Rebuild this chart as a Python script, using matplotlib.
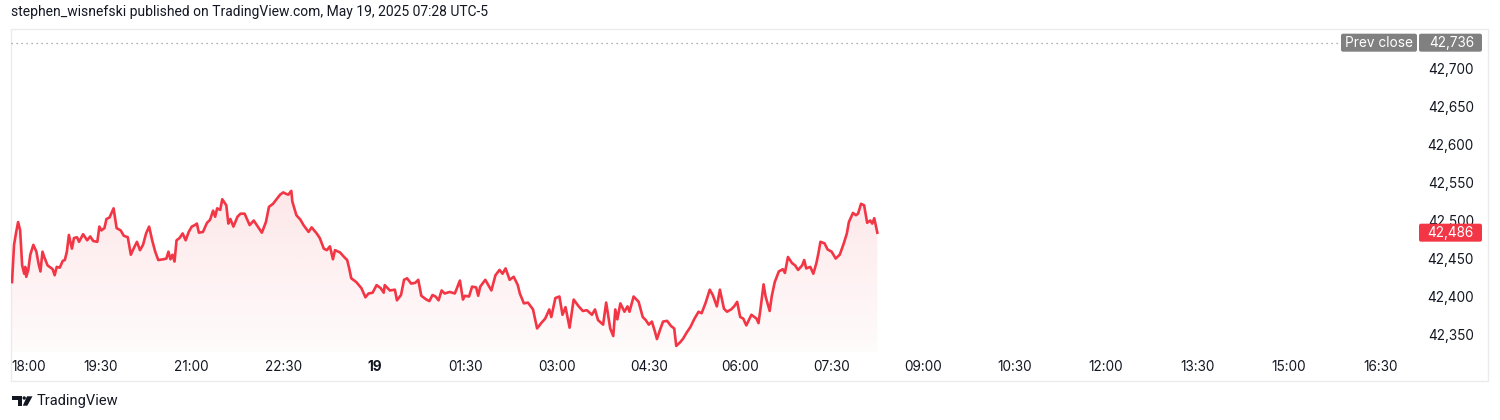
import matplotlib
matplotlib.use('agg')
import matplotlib.pyplot as plt
import matplotlib.transforms as mtransforms
from matplotlib.patches import FancyBboxPatch, Rectangle, Circle, Polygon
import numpy as np

FONT = ['Roboto', 'DejaVu Sans']
AXIS_FONT = ['Inter', 'DejaVu Sans']
RED = '#f23645'
TEXT = '#131722'
GRAY_TAG = '#808080'

plt.rcParams['font.family'] = FONT

# minutes after the 18:00 session open, last price
minutes = [3, 5, 7, 9, 11, 13, 15, 16, 17, 19,
           21, 24, 27, 29, 31, 33, 35, 38, 40, 43,
           45, 47, 50, 53, 55, 57, 59, 62, 64, 67,
           69, 73, 77, 80, 83, 87, 89, 91, 94, 96,
           99, 103, 106, 110, 113, 117, 120, 122, 126, 129,
           132, 135, 138, 141, 144, 147, 152, 155, 157, 159,
           161, 163, 165, 168, 171, 174, 177, 180, 183, 185,
           187, 191, 195, 198, 201, 203, 205, 208, 210, 214,
           216, 218, 221, 225, 228, 232, 237, 241, 245, 249,
           253, 256, 260, 264, 267, 270, 273, 275, 278, 279,
           283, 287, 290, 295, 298, 303, 306, 310, 313, 316,
           319, 321, 326, 330, 333, 335, 337, 342, 347, 351,
           354, 358, 362, 366, 369, 370, 375, 380, 382, 386,
           389, 392, 396, 400, 403, 406, 411, 414, 417, 420,
           423, 426, 429, 434, 439, 444, 447, 449, 453, 456,
           460, 462, 464, 469, 472, 475, 479, 483, 486, 489,
           493, 497, 501, 503, 507, 511, 516, 520, 524, 528,
           532, 534, 538, 542, 545, 548, 552, 556, 561, 565,
           569, 574, 577, 580, 585, 588, 592, 595, 597, 599,
           602, 606, 609, 611, 615, 620, 624, 627, 630, 633,
           636, 638, 641, 644, 648, 652, 655, 657, 661, 664,
           667, 671, 675, 679, 682, 686, 690, 693, 697, 700,
           704, 707, 711, 714, 717, 720, 723, 726, 731, 736,
           738, 740, 743, 745, 749, 751, 754, 758, 762, 764,
           767, 771, 774, 777, 781, 783, 785, 789, 792, 795,
           797, 799, 803, 806, 810, 814, 818, 822, 825, 827,
           831, 834, 836, 839, 842, 845, 848, 850, 852, 855]

prices = [42421, 42470, 42486, 42500, 42489, 42443, 42432, 42441, 42428, 42437,
          42457, 42470, 42461, 42446, 42435, 42461, 42453, 42443, 42441, 42438,
          42430, 42441, 42440, 42449, 42450, 42461, 42483, 42465, 42479, 42480,
          42474, 42484, 42476, 42481, 42475, 42474, 42494, 42489, 42492, 42504,
          42506, 42518, 42492, 42489, 42482, 42480, 42457, 42463, 42474, 42463,
          42470, 42485, 42494, 42476, 42461, 42450, 42451, 42452, 42461, 42451,
          42457, 42448, 42476, 42479, 42485, 42476, 42487, 42494, 42496, 42498,
          42486, 42487, 42499, 42503, 42515, 42507, 42518, 42516, 42530, 42522,
          42498, 42504, 42494, 42507, 42511, 42511, 42496, 42502, 42494, 42486,
          42500, 42520, 42524, 42531, 42536, 42539, 42537, 42536, 42541, 42527,
          42509, 42503, 42496, 42487, 42493, 42485, 42479, 42465, 42463, 42468,
          42451, 42463, 42460, 42454, 42450, 42439, 42426, 42421, 42413, 42401,
          42406, 42407, 42417, 42413, 42407, 42417, 42410, 42411, 42397, 42404,
          42424, 42426, 42419, 42420, 42424, 42403, 42398, 42396, 42404, 42402,
          42397, 42410, 42406, 42408, 42406, 42423, 42398, 42403, 42402, 42415,
          42414, 42403, 42415, 42424, 42417, 42410, 42430, 42437, 42432, 42439,
          42424, 42428, 42417, 42406, 42393, 42394, 42385, 42360, 42367, 42373,
          42385, 42375, 42400, 42402, 42378, 42388, 42361, 42398, 42389, 42383,
          42384, 42378, 42385, 42371, 42365, 42394, 42360, 42350, 42385, 42372,
          42393, 42382, 42389, 42382, 42402, 42395, 42375, 42371, 42365, 42369,
          42356, 42346, 42358, 42369, 42370, 42363, 42360, 42337, 42342, 42347,
          42354, 42362, 42373, 42382, 42380, 42394, 42411, 42404, 42389, 42411,
          42386, 42382, 42385, 42389, 42395, 42375, 42373, 42364, 42378, 42373,
          42367, 42386, 42418, 42402, 42383, 42402, 42421, 42435, 42438, 42433,
          42454, 42446, 42443, 42437, 42443, 42450, 42439, 42441, 42432, 42446,
          42459, 42474, 42472, 42464, 42461, 42452, 42457, 42472, 42485, 42500,
          42512, 42509, 42511, 42524, 42522, 42499, 42502, 42498, 42505, 42486]

prev_close = 42736
last_price = prices[-1]
y_ticks = [42350, 42400, 42450, 42500, 42550, 42600, 42650, 42700]
x_tick_minutes = [90 * i for i in range(16)]
x_tick_labels = ['18:00', '19:30', '21:00', '22:30', '19', '01:30', '03:00', '04:30',
                 '06:00', '07:30', '09:00', '10:30', '12:00', '13:30', '15:00', '16:30']

W, H = 1500, 420
fig = plt.figure(figsize=(W / 100, H / 100), dpi=100)
fig.patch.set_facecolor('white')
# pixel coords with origin at top-left, for the page decoration
px = mtransforms.Affine2D().scale(1 / W, -1 / H).translate(0, 1) + fig.transFigure

ax = fig.add_axes([11 / W, 1 - 352 / H, 1404 / W, 323 / H])
ax.axis('off')
ymin, ymax = 42329, 42754
xmin, xmax = 2, 1384.4

# area fill with a vertical gradient, clipped to the area under the line
poly = ax.fill_between(minutes, prices, ymin, facecolor='none', edgecolor='none')
grad = np.zeros((256, 1, 4))
grad[..., :3] = matplotlib.colors.to_rgb(RED)
grad[:, 0, 3] = np.linspace(0.02, 0.12, 256)
im = ax.imshow(grad, extent=[minutes[0], minutes[-1], ymin, max(prices)],
               origin='lower', aspect='auto', interpolation='bilinear', zorder=1)
im.set_clip_path(poly.get_paths()[0], transform=ax.transData)

ax.plot(minutes, prices, color=RED, lw=1.9, zorder=3, solid_joinstyle='round')
ax.axhline(prev_close, xmin=0, xmax=(1338 - 11) / 1404, color='#9598a1',
           lw=0.9, linestyle=(0, (1, 3)), zorder=2)
ax.set_xlim(xmin, xmax)
ax.set_ylim(ymin, ymax)

# time axis labels
for t, lab in zip(x_tick_minutes, x_tick_labels):
    ha = 'center'
    if t < xmin:
        t, ha = xmin, 'left'
    ax.text(t, -0.0464, lab, transform=ax.get_xaxis_transform(), ha=ha, va='center',
            fontsize=9.8, family=AXIS_FONT, color=TEXT,
            fontweight='bold' if lab == '19' else 'normal', clip_on=False)

# price axis labels
ylab = mtransforms.blended_transform_factory(fig.transFigure, ax.transData)
for v in y_ticks:
    ax.text(1474 / W, v, f'{v:,}', transform=ylab, ha='right', va='center',
            fontsize=9.8, family=AXIS_FONT, color=TEXT, clip_on=False)


def price_tag(x0, x1, value, text, color, ha='right'):
    yc = H - ax.transData.transform((0, value))[1]
    box = FancyBboxPatch((x0, yc - 9), x1 - x0, 18, boxstyle='round,pad=0,rounding_size=2',
                         fc=color, ec='none', transform=px, zorder=5)
    fig.add_artist(box)
    tx = 1474 if ha == 'right' else (x0 + x1) / 2
    fig.text(tx, yc + 0.5, text, transform=px, ha=ha, va='center', color='white',
             fontsize=9.8, family=AXIS_FONT, zorder=6)


price_tag(1341, 1417, prev_close, 'Prev close', GRAY_TAG, ha='center')
price_tag(1419, 1482, prev_close, f'{prev_close:,}', GRAY_TAG)
price_tag(1419, 1482, last_price, f'{last_price:,}', RED)

# chart frame
fig.add_artist(Rectangle((11, 29), 1477, 352, transform=px, fc='none',
                         ec='#ebebeb', lw=1, zorder=0))

fig.text(11, 12, 'stephen_wisnefski published on TradingView.com, May 19, 2025 07:28 UTC-5',
         transform=px, ha='left', va='center', fontsize=10, color=TEXT)

# TradingView logo
fig.add_artist(Polygon([(11.7, 396.3), (21.5, 396.3), (21.5, 405.7), (17.5, 405.7),
                        (17.5, 399.6), (11.7, 399.6)], closed=True, transform=px,
                       fc=TEXT, ec='none'))
fig.add_artist(Circle((24.2, 398.0), 1.7, transform=px, fc=TEXT, ec='none'))
fig.add_artist(Polygon([(27.0, 396.3), (32.5, 396.3), (27.3, 405.7), (22.8, 405.7)],
                       closed=True, transform=px, fc=TEXT, ec='none'))
fig.text(37, 401, 'TradingView', transform=px, ha='left', va='center',
         fontsize=10.5, color=TEXT)

fig.savefig('out.png', dpi=100)
plt.close(fig)
